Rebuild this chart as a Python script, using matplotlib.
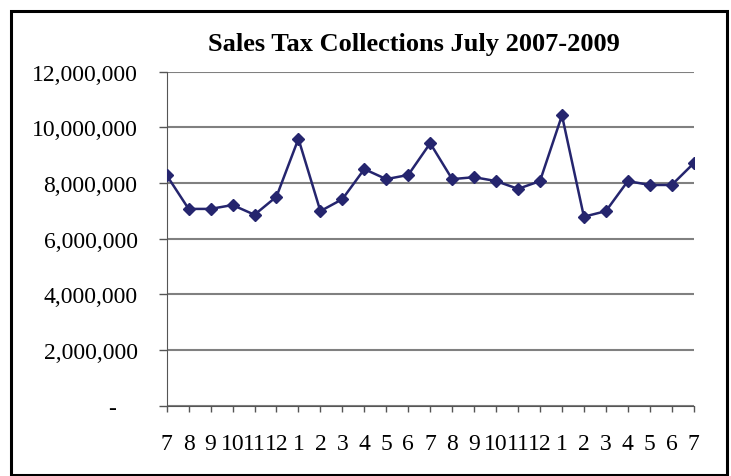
import matplotlib
matplotlib.use("Agg")
import matplotlib.pyplot as plt
from matplotlib.patches import Rectangle
from matplotlib.transforms import ScaledTranslation

plt.rcParams['font.family'] = ['Liberation Serif', 'DejaVu Serif']

# months July 2007 - July 2009
months = ['7', '8', '9', '10', '11', '12', '1', '2', '3', '4', '5', '6',
          '7', '8', '9', '10', '11', '12', '1', '2', '3', '4', '5', '6', '7']
collections = [8280000, 7070000, 7070000, 7210000, 6860000, 7510000, 9590000,
               6990000, 7420000, 8500000, 8140000, 8290000, 9430000, 8140000,
               8210000, 8070000, 7790000, 8070000, 10430000, 6790000, 6990000,
               8070000, 7930000, 7930000, 8710000]
yticks = [0, 2000000, 4000000, 6000000, 8000000, 10000000, 12000000]

fig = plt.figure(figsize=(7.31, 4.77), dpi=100)
ax = fig.add_axes([0.228, 0.1474, 0.721, 0.7002])

x = list(range(len(months)))
ax.plot(x, collections, color='#25256e', lw=1.8, marker='D', ms=6.5,
        markeredgecolor='#25256e', markerfacecolor='#25256e', zorder=3)

ax.set_xlim(0, len(months) - 1)
ax.set_ylim(0, 12000000)
ax.set_yticks(yticks)
ax.set_yticklabels(['-' if v == 0 else '{:,}'.format(v) for v in yticks])
ax.set_xticks(x)
ax.set_xticklabels(months)
ax.grid(axis='y', color='#808080', lw=1.5)
ax.set_axisbelow(True)

for s in ['top', 'right']:
    ax.spines[s].set_visible(False)
ax.spines['left'].set_color('#555555')
ax.spines['bottom'].set_color('#555555')
ax.tick_params(axis='y', length=6, width=1, color='#555555', pad=15, labelsize=17)
ax.tick_params(axis='x', length=4.5, width=1, color='#555555', pad=15.5, labelsize=17)

# accounting style dash sits further left
lbl = ax.get_yticklabels()[0]
lbl.set_transform(lbl.get_transform() + ScaledTranslation(-0.22, 0, fig.dpi_scale_trans))

fig.text(0.5657, 0.907, 'Sales Tax Collections July 2007-2009', ha='center', va='center',
         fontsize=19, fontweight='bold')

fig.patches.append(Rectangle((0.0145, 0.003), 0.98, 0.972, transform=fig.transFigure,
                             fill=False, edgecolor='black', lw=2.2))

fig.savefig('out.png', dpi=100)
